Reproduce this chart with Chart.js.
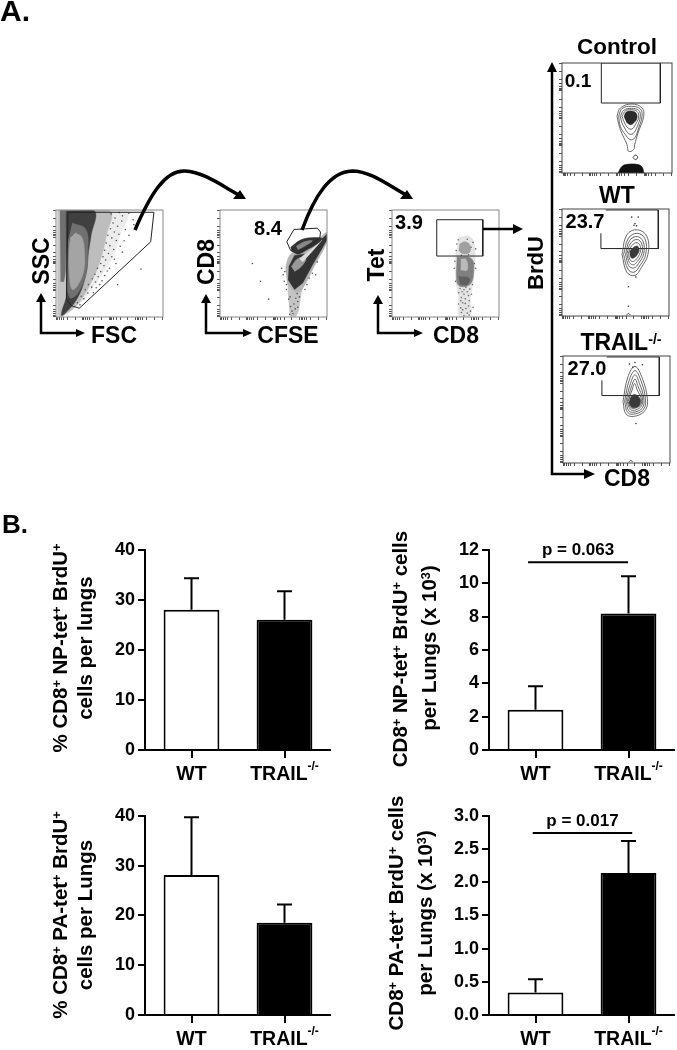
<!DOCTYPE html>
<html>
<head>
<meta charset="utf-8">
<script src="https://cdn.jsdelivr.net/npm/chart.js@4"></script>
<style>
html, body { margin: 0; padding: 0; background: #fff; }
#page { position: relative; width: 677px; height: 1050px; overflow: hidden; font-family: "Liberation Sans", Arial, sans-serif; font-weight: bold; color: #000; }
#page canvas { position: absolute; }
#page svg { position: absolute; left: 0; top: 0; }
.txt { position: absolute; white-space: nowrap; text-align: center; line-height: 1; }
.txt sup { font-size: 62%; line-height: 0; vertical-align: baseline; position: relative; top: -0.45em; }
</style>
</head>
<body>
<div id="page">
<svg width="677" height="1050" style="z-index:3">
  <g fill="none" stroke="#000" stroke-width="3.5">
    <path d="M135 230 C150 195 165 170 185 171 C205 172 225 188 241 196"/>
    <path d="M302 230 C315 195 330 172 352 171 C372 171 392 188 408 196"/>
  </g>
  <g fill="#000">
    <path d="M246 199 L233 199 L240 190 Z"/>
    <path d="M413 199 L400 199 L407 190 Z"/>
    <path d="M523 229 L513 224 L513 234 Z"/>
    <path d="M595 474 L584 469 L584 479 Z"/>
    <path d="M552 62 L547 72 L557 72 Z"/>
    <path d="M85 333 L76 329 L76 337 Z"/>
    <path d="M252 333 L243 329 L243 337 Z"/>
    <path d="M423 333 L414 329 L414 337 Z"/>
    <path d="M41 293 L36 302 L46 302 Z"/>
    <path d="M206 294 L201 303 L211 303 Z"/>
    <path d="M378 295 L373 304 L383 304 Z"/>
  </g>
  <g fill="none" stroke="#000" stroke-width="2.5">
    <path d="M483 229 L515 229"/>
    <path d="M552 70 L552 474 L586 474"/>
    <path d="M41 300 L41 333 L78 333"/>
    <path d="M206 301 L206 333 L245 333"/>
    <path d="M378 302 L378 333 L416 333"/>
  </g>
</svg>
</div>
<script>
// bar panels
var barCategories = ["WT", "TRAIL^-/-"];
var npPercent = [28, 26];
var npPercentTop = [34.3, 31.7];
var npCells = [2.42, 8.18];
var npCellsTop = [3.82, 10.42];
var paPercent = [28.1, 18.5];
var paPercentTop = [39.7, 22.2];
var paCells = [0.34, 2.14];
var paCellsTop = [0.54, 2.62];

// flow panels, values in channels 0-330
var flowTicks = [3, 6, 10, 16, 24, 36, 60, 82, 86, 90, 96, 104, 116, 140, 164, 168, 172, 178, 186, 198, 222, 246, 250, 254, 260, 268, 280, 304, 328];

var sscHaze = [[7,328],[217,328],[197,250],[172,180],[127,110],[82,50],[42,25],[7,0]];
var sscGrey = [[7,328],[165,328],[155,250],[135,170],[105,100],[68,40],[20,2],[10,2]];
var sscStrip = [[4,328],[32,328],[32,100],[30,40],[14,12],[4,0]];
var sscStripDark = [[12,328],[30,328],[30,170],[24,110],[14,110]];
var sscBody = [[30,328],[118,328],[108,250],[100,200],[92,130],[67,60],[27,10],[16,6],[32,60]];
var sscRing = [[50,290],[92,270],[98,195],[92,130],[65,70],[42,60],[35,120],[36,230]];
var sscCenter = [[60,260],[80,245],[88,195],[85,140],[65,95],[50,85],[42,120],[40,200],[45,245]];
var sscGate = [[37,323],[302,323],[292,232],[72,27],[47,35],[32,55],[37,323]];
var sscDots = [[170,318],[182,305],[195,322],[205,312],[176,290],[190,280],[203,296],[214,270],[168,272],[180,262],[194,255],[160,252],[172,244],[186,236],[155,228],[166,220],[178,208],[150,206],[162,196],[172,186],[145,186],[153,176],[138,165],[148,158],[128,150],[138,140],[120,132],[130,124],[112,118],[122,108],[100,100],[110,92],[90,84],[98,74],[78,64],[86,56],[66,44],[74,38],[225,320],[238,300],[225,252],[205,200],[185,165],[165,150],[150,128],[135,100],[115,75],[262,148],[190,100],[240,285],[210,235],[198,218],[180,178],[158,142],[142,112],[124,90]];

var cd8Halo = [[205,120],[205,165],[225,200],[262,202],[330,262],[330,232],[290,155],[262,100],[240,75],[208,100]];
var cd8Stem = [[215,2],[235,2],[250,70],[255,110],[215,115],[210,70]];
var cd8Blob = [[212,155],[230,190],[265,195],[330,255],[330,238],[285,160],[255,105],[230,85],[210,115]];
var cd8Inner = [[220,155],[240,180],[265,180],[250,155],[230,140]];
var cd8Streak = [[245,180],[315,238],[300,220],[255,170]];
var cd8Top = [[218,215],[250,238],[290,245],[315,240],[265,205],[240,195],[220,205]];
var cd8TopInner = [[235,218],[260,232],[285,235],[255,215],[240,208]];
var cd8Gate = [[228,270],[300,274],[310,262],[308,245],[265,210],[240,195],[218,205],[206,232],[228,270]];
var cd8Dots = [[225,10],[232,25],[218,32],[240,48],[212,55],[245,62],[205,85],[195,130],[190,150],[262,85],[275,120],[295,130],[100,165],[125,110],[150,55],[300,170],[238,72],[205,100],[222,18],[228,40],[216,62],[234,58],[198,110],[200,140],[268,100],[285,135],[215,8],[240,30]];

var tetHaze = [[205,245],[240,248],[255,215],[252,120],[242,60],[242,2],[208,2],[205,60],[196,120],[196,190]];
var tetUpper = [[208,225],[225,232],[240,222],[240,200],[218,195],[206,205]];
var tetBody = [[200,185],[245,180],[252,140],[240,100],[205,98],[198,140]];
var tetCenter = [[212,178],[228,178],[232,145],[212,145]];
var tetSpot = [[205,125],[238,120],[232,100],[210,100]];
var tetGate = [[138,300],[280,300],[280,188],[138,188],[138,300]];
var tetDots = [[200,225],[250,230],[198,205],[258,210],[206,75],[245,70],[214,60],[238,50],[205,40],[250,30],[218,22],[232,12],[222,84],[236,66],[226,42],[212,28],[242,18],[192,150],[258,150],[216,78],[228,92],[240,86],[210,88],[222,70],[232,78],[212,50],[226,56],[236,34],[218,44],[228,26],[214,14],[238,6],[222,4],[248,100],[196,110],[254,165],[194,172],[244,215],[204,238],[232,240],[214,190],[236,192]];

var ctlGate = [[118,330],[295,330],[295,210],[118,210],[118,330]];
var ctlC1 = [[165,170],[175,195],[210,207],[240,195],[245,170],[228,120],[218,85],[215,70],[200,65],[195,85],[175,130],[165,170]];
var ctlC2 = [[170,170],[180,193],[208,200],[235,192],[240,170],[230,135],[218,105],[205,100],[190,115],[175,140],[170,170]];
var ctlC3 = [[175,170],[185,188],[208,194],[230,188],[235,170],[226,140],[213,118],[200,118],[188,135],[180,150],[175,170]];
var ctlC4 = [[180,170],[190,186],[208,190],[226,184],[230,168],[220,145],[210,132],[198,135],[188,150],[180,170]];
var ctlCore = [[186,168],[192,182],[208,186],[222,180],[225,165],[215,150],[205,145],[193,152]];
var ctlRing = [[213,47],[220,54],[227,47],[220,40],[213,47]];
var ctlBottom = [[168,0],[180,20],[195,26],[225,26],[240,18],[246,0]];

var wtGate = [[135,327],[297,327],[297,208],[120,208],[120,255]];
var wtC1 = [[185,190],[200,250],[232,266],[262,245],[265,190],[245,150],[225,125],[200,135],[185,190]];
var wtC2 = [[190,190],[205,240],[232,255],[256,238],[258,190],[240,155],[222,135],[203,145],[190,190]];
var wtC3 = [[196,190],[208,232],[232,245],[250,230],[252,192],[236,162],[222,148],[206,155],[196,190]];
var wtC4 = [[200,192],[212,225],[232,236],[246,222],[247,194],[232,168],[220,158],[208,165],[200,192]];
var wtC5 = [[205,195],[216,218],[232,226],[242,214],[241,196],[230,176],[218,168],[209,175],[205,195]];
var wtCore = [[208,198],[218,210],[232,216],[238,206],[236,196],[226,182],[216,178],[210,184]];
var wtRing = [[199,3],[205,8],[211,3]];
var wtDots = [[215,305],[235,305],[225,285],[222,280],[230,278],[228,120],[205,90],[205,30]];

var koGate = [[135,327],[297,327],[297,208],[120,208],[120,255]];
var koC1 = [[185,190],[195,150],[225,145],[255,165],[260,200],[245,260],[222,298],[200,265],[185,190]];
var koC2 = [[190,190],[200,155],[225,152],[250,168],[254,200],[240,255],[222,285],[204,255],[190,190]];
var koC3 = [[194,190],[204,160],[225,158],[246,172],[249,200],[236,245],[222,272],[208,245],[194,190]];
var koC4 = [[198,190],[208,165],[225,164],[242,176],[245,200],[232,235],[222,258],[211,235],[198,190]];
var koC5 = [[201,190],[210,170],[225,170],[240,180],[241,200],[229,225],[221,245],[213,225],[201,190]];
var koCore = [[203,185],[212,172],[228,172],[238,182],[238,198],[226,210],[215,210],[206,198]];
var koRing = [[203,3],[209,8],[215,3]];
var koDots = [[205,305],[215,295],[222,310],[245,303],[225,122]];

function addText(html, x, y, size, rot) {
    var d = document.createElement("div");
    d.className = "txt";
    d.innerHTML = html;
    d.style.left = x + "px";
    d.style.top = y + "px";
    d.style.fontSize = size + "px";
    d.style.zIndex = 4;
    d.style.transform = "translate(-50%,-50%)" + (rot ? " rotate(-90deg)" : "");
    document.getElementById("page").appendChild(d);
}

function addCanvas(x, y, w, h) {
    var c = document.createElement("canvas");
    c.width = w;
    c.height = h;
    c.style.left = x + "px";
    c.style.top = y + "px";
    c.style.width = w + "px";
    c.style.height = h + "px";
    document.getElementById("page").appendChild(c);
    return c;
}

function toPoints(arr) {
    return arr.map(function (p) { return { x: p[0], y: p[1] }; });
}

// error whiskers, category labels with superscript and p value line
var barExtras = {
    id: "barExtras",
    afterDatasetsDraw: function (chart, args, opts) {
        var ctx = chart.ctx, xs = chart.scales.x, ys = chart.scales.y;
        ctx.save();
        ctx.strokeStyle = "#000";
        ctx.fillStyle = "#000";
        ctx.lineWidth = 2;
        opts.top.forEach(function (v, i) {
            var x = xs.getPixelForValue(i);
            ctx.beginPath();
            ctx.moveTo(x, ys.getPixelForValue(opts.values[i]));
            ctx.lineTo(x, ys.getPixelForValue(v));
            ctx.moveTo(x - 7.5, ys.getPixelForValue(v));
            ctx.lineTo(x + 7.5, ys.getPixelForValue(v));
            ctx.stroke();
        });
        barCategories.forEach(function (cat, i) {
            var parts = cat.split("^");
            var x = xs.getPixelForValue(i), y = ys.bottom + 25;
            ctx.font = "bold 19.5px 'Liberation Sans'";
            ctx.textBaseline = "middle";
            var w = ctx.measureText(parts[0]).width;
            var w2 = 0;
            if (parts[1]) {
                ctx.font = "bold 12px 'Liberation Sans'";
                w2 = ctx.measureText(parts[1]).width;
            }
            ctx.font = "bold 19.5px 'Liberation Sans'";
            ctx.textAlign = "left";
            ctx.fillText(parts[0], x - (w + w2) / 2, y);
            if (parts[1]) {
                ctx.font = "bold 12px 'Liberation Sans'";
                ctx.fillText(parts[1], x - (w + w2) / 2 + w, y - 8);
            }
        });
        if (opts.p) {
            var py = ys.getPixelForValue(opts.p.y);
            var x0 = xs.getPixelForValue(opts.p.from), x1 = xs.getPixelForValue(opts.p.to);
            ctx.beginPath();
            ctx.moveTo(x0, py);
            ctx.lineTo(x1, py);
            ctx.stroke();
            ctx.font = "bold 17px 'Liberation Sans'";
            ctx.textAlign = "center";
            ctx.textBaseline = "alphabetic";
            ctx.fillText(opts.p.text, (x0 + x1) / 2, py - 7);
        }
        ctx.restore();
    }
};

function barChart(axisX, zeroY, topY, values, top, max, step, digits, p) {
    var left = 48, canvas = addCanvas(axisX - left, topY - 10, left + 186, zeroY - topY + 45);
    new Chart(canvas, {
        type: "bar",
        data: {
            labels: barCategories,
            datasets: [{
                data: values,
                backgroundColor: ["#fff", "#000"],
                borderColor: "#000",
                borderWidth: 2,
                barPercentage: 0.6,
                categoryPercentage: 1
            }]
        },
        options: {
            responsive: false,
            animation: false,
            layout: { padding: { top: 10 } },
            plugins: {
                legend: { display: false },
                tooltip: { enabled: false },
                barExtras: { values: values, top: top, p: p }
            },
            scales: {
                x: {
                    grid: { offset: false, drawOnChartArea: false, color: "#000", lineWidth: 2, tickLength: 8 },
                    border: { color: "#000", width: 2 },
                    ticks: { display: false },
                    afterFit: function (s) { s.height = 35; }
                },
                y: {
                    min: 0,
                    max: max,
                    grid: { drawOnChartArea: false, color: "#000", lineWidth: 2, tickLength: 7 },
                    border: { color: "#000", width: 2 },
                    ticks: {
                        stepSize: step,
                        padding: 3,
                        color: "#000",
                        font: { family: "Liberation Sans", weight: "bold", size: 18 },
                        callback: function (v) { return v.toFixed(digits); }
                    },
                    afterFit: function (s) { s.width = left; }
                }
            }
        },
        plugins: [barExtras]
    });
}

var flowFrame = {
    id: "flowFrame",
    afterDraw: function (chart, args, opts) {
        var a = chart.chartArea, ctx = chart.ctx;
        ctx.save();
        ctx.strokeStyle = opts.color;
        ctx.lineWidth = 1;
        ctx.strokeRect(a.left, a.top, a.right - a.left, a.bottom - a.top);
        ctx.restore();
    }
};

function flowChart(x, y, frameColor, layers) {
    var sets = layers.map(function (l, i) {
        var set = {
            data: toPoints(l.pts),
            showLine: !l.dots,
            pointRadius: l.dots ? 0.8 : 0,
            pointBorderWidth: 0,
            pointBackgroundColor: l.color || "#444",
            borderWidth: 0,
            order: layers.length - i
        };
        if (l.fill) {
            set.fill = "shape";
            set.backgroundColor = l.fill;
            set.borderColor = l.fill;
            set.borderWidth = 0.5;
        }
        if (l.line) {
            set.fill = false;
            set.borderColor = l.line;
            set.borderWidth = l.width || 1;
        }
        if (l.smooth) set.tension = 0.4;
        return set;
    });
    function ticks(s) {
        s.ticks = flowTicks.map(function (v) { return { value: v }; });
    }
    var axis = {
        min: 0,
        max: 330,
        afterBuildTicks: ticks,
        grid: { drawOnChartArea: false, color: "#555", lineWidth: 1, tickLength: 3 },
        border: { display: false },
        ticks: { display: false, autoSkip: false }
    };
    var canvas = addCanvas(x - 4, y - 1, 115, 115);
    new Chart(canvas, {
        type: "scatter",
        data: { datasets: sets },
        options: {
            responsive: false,
            animation: false,
            layout: { padding: { top: 1, right: 1 } },
            plugins: { legend: { display: false }, tooltip: { enabled: false }, flowFrame: { color: frameColor } },
            scales: {
                x: Object.assign({}, axis, { afterFit: function (s) { s.height = 4; } }),
                y: Object.assign({}, axis, { afterFit: function (s) { s.width = 4; } })
            }
        },
        plugins: [flowFrame]
    });
}

flowChart(56, 207, "#888", [
    { pts: sscHaze, fill: "#ececec", smooth: true },
    { pts: sscGrey, fill: "#bdbdbd", smooth: true },
    { pts: sscStrip, fill: "#c4c4c4" },
    { pts: sscStripDark, fill: "#707070", smooth: true },
    { pts: sscBody, fill: "#404040", smooth: true },
    { pts: sscRing, fill: "#707070", smooth: true },
    { pts: sscCenter, fill: "#a4a4a4", smooth: true },
    { pts: sscDots, dots: true, color: "#555" },
    { pts: sscGate, line: "#222" }
]);
flowChart(220, 207, "#888", [
    { pts: cd8Stem, fill: "#c4c4c4", smooth: true },
    { pts: cd8Halo, fill: "#b4b4b4", smooth: true },
    { pts: cd8Blob, fill: "#333" },
    { pts: cd8Inner, fill: "#999", smooth: true },
    { pts: cd8Streak, fill: "#ddd" },
    { pts: cd8Top, fill: "#333", smooth: true },
    { pts: cd8TopInner, fill: "#888", smooth: true },
    { pts: cd8Dots, dots: true, color: "#555" },
    { pts: cd8Gate, line: "#222" }
]);
flowChart(392, 207, "#888", [
    { pts: tetHaze, fill: "#e4e4e4", smooth: true },
    { pts: tetUpper, fill: "#a0a0a0", smooth: true },
    { pts: tetBody, fill: "#808080", smooth: true },
    { pts: tetCenter, fill: "#bababa", smooth: true },
    { pts: tetSpot, fill: "#606060", smooth: true },
    { pts: tetDots, dots: true, color: "#666" },
    { pts: tetGate, line: "#222" }
]);
flowChart(562, 63, "#444", [
    { pts: ctlGate, line: "#222" },
    { pts: ctlC1, line: "#444", width: 0.8, smooth: true },
    { pts: ctlC2, line: "#444", width: 0.8, smooth: true },
    { pts: ctlC3, line: "#444", width: 0.8, smooth: true },
    { pts: ctlC4, line: "#444", width: 0.8, smooth: true },
    { pts: ctlCore, fill: "#2a2a2a", smooth: true },
    { pts: ctlRing, line: "#333", smooth: true },
    { pts: ctlBottom, fill: "#111", smooth: true }
]);
flowChart(562, 206, "#444", [
    { pts: wtGate, line: "#222" },
    { pts: wtC1, line: "#444", width: 0.8, smooth: true },
    { pts: wtC2, line: "#444", width: 0.8, smooth: true },
    { pts: wtC3, line: "#444", width: 0.8, smooth: true },
    { pts: wtC4, line: "#444", width: 0.8, smooth: true },
    { pts: wtC5, line: "#444", width: 0.8, smooth: true },
    { pts: wtCore, fill: "#3a3a3a", smooth: true },
    { pts: wtRing, line: "#333", smooth: true },
    { pts: wtDots, dots: true, color: "#333" }
]);
flowChart(563, 353, "#444", [
    { pts: koGate, line: "#222" },
    { pts: koC1, line: "#444", width: 0.8, smooth: true },
    { pts: koC2, line: "#444", width: 0.8, smooth: true },
    { pts: koC3, line: "#444", width: 0.8, smooth: true },
    { pts: koC4, line: "#444", width: 0.8, smooth: true },
    { pts: koC5, line: "#444", width: 0.8, smooth: true },
    { pts: koCore, fill: "#3a3a3a", smooth: true },
    { pts: koRing, line: "#333", smooth: true },
    { pts: koDots, dots: true, color: "#333" }
]);

barChart(145, 750, 546, npPercent, npPercentTop, 40, 10, 0);
barChart(489, 750, 546, npCells, npCellsTop, 12, 2, 0, { y: 11.25, from: -0.08, to: 0.995, text: "p = 0.063" });
barChart(145, 1015, 812, paPercent, paPercentTop, 40, 10, 0);
barChart(489, 1015, 812, paCells, paCellsTop, 3, 0.5, 1, { y: 2.74, from: -0.03, to: 1.04, text: "p = 0.017" });

addText("A.", 15, 11, 30);
addText("B.", 15, 524, 26);
addText("SSC", 41, 261, 23, true);
addText("FSC", 114, 335, 23);
addText("CD8", 206, 262, 23, true);
addText("CFSE", 288, 335, 23);
addText("8.4", 268, 228, 20);
addText("Tet", 376, 265, 23, true);
addText("CD8", 456, 335, 23);
addText("3.9", 409, 222, 20);
addText("BrdU", 536, 263, 22, true);
addText("Control", 617, 47, 22.5);
addText("0.1", 578, 80, 19);
addText("WT", 617, 195, 23);
addText("23.7", 585, 221, 20);
addText("TRAIL<sup>-/-</sup>", 621, 342, 23);
addText("27.0", 587, 368, 20);
addText("CD8", 627, 478, 23);

addText("% CD8<sup>+</sup> NP-tet<sup>+</sup> BrdU<sup>+</sup>", 60, 648, 20.5, true);
addText("cells per lungs", 85, 648, 20.5, true);
addText("CD8<sup>+</sup> NP-tet<sup>+</sup> BrdU<sup>+</sup> cells", 400, 649, 20.5, true);
addText("per Lungs (x 10<sup>3</sup>)", 429, 648, 20.5, true);
addText("% CD8<sup>+</sup> PA-tet<sup>+</sup> BrdU<sup>+</sup>", 60, 915, 20.5, true);
addText("cells per Lungs", 85, 915, 20.5, true);
addText("CD8<sup>+</sup> PA-tet<sup>+</sup> BrdU<sup>+</sup> cells", 396, 913, 20.5, true);
addText("per Lungs (x 10<sup>3</sup>)", 425, 913, 20.5, true);
</script>
</body>
</html>
